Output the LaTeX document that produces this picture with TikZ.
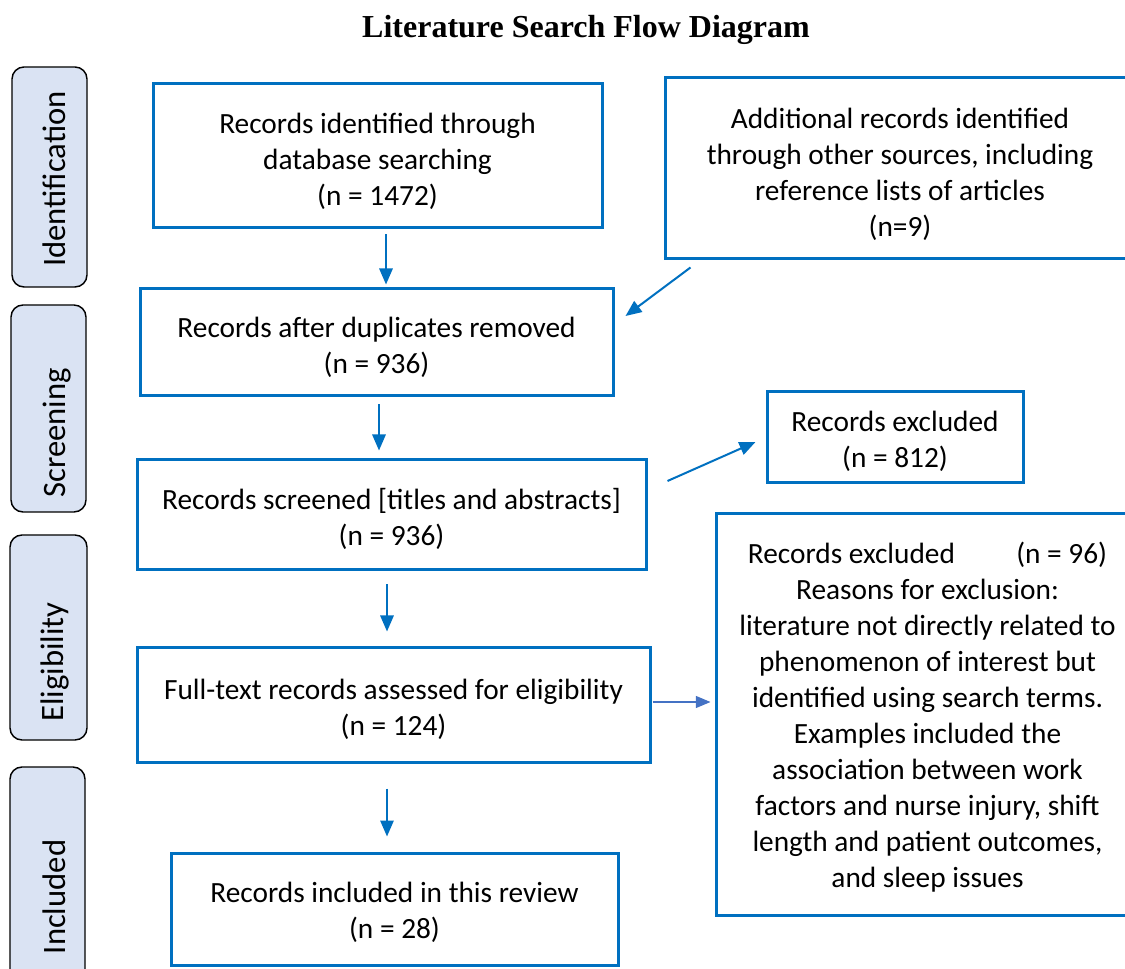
\documentclass[tikz,border=0pt]{standalone}
\usepackage{fontspec}
\setmainfont{Carlito}
\newfontfamily\titlefont{Liberation Serif}
\usetikzlibrary{calc,arrows.meta}
\definecolor{mblue}{RGB}{0,112,192}
\definecolor{ablue}{RGB}{68,114,196}
\definecolor{stagefill}{RGB}{218,227,243}
\tikzset{
  flowbox/.style={draw=mblue, line width=2.25pt, fill=white, inner sep=0pt},
  boxtext/.style={align=center, inner sep=0pt, font=\fontsize{22}{27}\selectfont},
  stagebox/.style={draw=black, line width=1.1pt, fill=stagefill, rounded corners=9pt, inner sep=0pt},
  stagetext/.style={rotate=90, anchor=base, inner sep=0pt, font=\fontsize{24.5}{29}\selectfont},
  flowarrow/.style={draw=mblue, line width=1.5pt, -{Triangle[length=12pt,width=10pt]}},
  thinarrow/.style={draw=ablue, line width=0.9pt, -{Triangle[length=11pt,width=9pt]}}
}
\begin{document}
\begin{tikzpicture}[x=0.75pt,y=-0.75pt]
\useasboundingbox (0,0) rectangle (1125,969);
\clip (0,0) rectangle (1125,969);

% title
\node[anchor=base, inner sep=0pt, font=\titlefont\bfseries\fontsize{24}{28}\selectfont] (title) at (586,38) {Literature Search Flow Diagram};

% stage labels
\node[stagebox, minimum width=56.25pt, minimum height=165pt] (s1) at (49.5,177) {};
\node[stagebox, minimum width=56.25pt, minimum height=155.25pt] (s2) at (48.5,408.5) {};
\node[stagebox, minimum width=57.75pt, minimum height=153.75pt] (s3) at (48.5,637.5) {};
\node[stagebox, minimum width=56.25pt, minimum height=195pt] (s4) at (47.5,897) {};
\node[stagetext] (t1) at (65,179) {Identification};
\node[stagetext] (t2) at (65,433) {Screening};
\node[stagetext] (t3) at (63,662) {Eligibility};
\node[stagetext] (t4) at (65,897) {Included};

% boxes
\node[flowbox, minimum width=336.75pt, minimum height=108pt] (b1) at (377.5,156) {};
\node[flowbox, minimum width=352.5pt, minimum height=135.75pt] (b2) at (900,168.5) {};
\node[flowbox, minimum width=354.75pt, minimum height=80.25pt] (b3) at (376.5,342.5) {};
\node[flowbox, minimum width=381.75pt, minimum height=82.5pt] (b4) at (391.5,515) {};
\node[flowbox, minimum width=192pt, minimum height=68.25pt] (b5) at (895,437.5) {};
\node[flowbox, minimum width=384.75pt, minimum height=85.5pt] (b6) at (393.5,705) {};
\node[flowbox, minimum width=317.25pt, minimum height=300.75pt] (b7) at (927.5,714.5) {};
\node[flowbox, minimum width=335.25pt, minimum height=84pt] (b8) at (394.5,909) {};

% box texts
\node[boxtext] (b1t) at ($(b1)+(0,5)$) {Records identified through\\database searching\\(n = 1472)};
\node[boxtext] (b2t) at ($(b2)+(0,6)$) {Additional records identified\\through other sources, including\\reference lists of articles\\(n=9)};
\node[boxtext] (b3t) at ($(b3)+(0,5)$) {Records after duplicates removed\\(n = 936)};
\node[boxtext] (b4t) at ($(b4)+(0,4)$) {Records screened [titles and abstracts]\\(n = 936)};
\node[boxtext] (b5t) at ($(b5)+(0,4)$) {Records excluded\\(n = 812)};
\node[boxtext] (b6t) at ($(b6)+(0,4)$) {Full-text records assessed for eligibility\\(n = 124)};
\node[boxtext] (b7t) at ($(b7)+(0,3)$) {Records excluded\hspace{41pt} (n = 96)\\Reasons for exclusion:\\literature not directly related to\\phenomenon of interest but\\identified using search terms.\\Examples included the\\association between work\\factors and nurse injury, shift\\length and patient outcomes,\\and sleep issues};
\node[boxtext] (b8t) at ($(b8)+(0,3)$) {Records included in this review\\(n = 28)};

% arrows
\draw[flowarrow] ($(b1.south)+(8.5,5)$) -- ($(b3.north)+(9.5,-3)$);
\draw[flowarrow] ($(b2.south west)+(27,7)$) -- ($(b3.east)+(11,-26.5)$);
\draw[flowarrow] ($(b3.south)+(2.5,7)$) -- ($(b4.north)+(-12.5,-8)$);
\draw[flowarrow] ($(b4.east)+(20,-34)$) -- ($(b5.west)+(-10,4.5)$);
\draw[flowarrow] ($(b4.south)+(-4.5,13)$) -- ($(b6.north)+(-6.5,-15)$);
\draw[thinarrow] ($(b6.east)+(1,-3)$) -- ($(b7.west)+(-4,-12.5)$);
\draw[flowarrow] ($(b6.south)+(-6.5,25)$) -- ($(b8.north)+(-7.5,-15)$);
\end{tikzpicture}
\end{document}
